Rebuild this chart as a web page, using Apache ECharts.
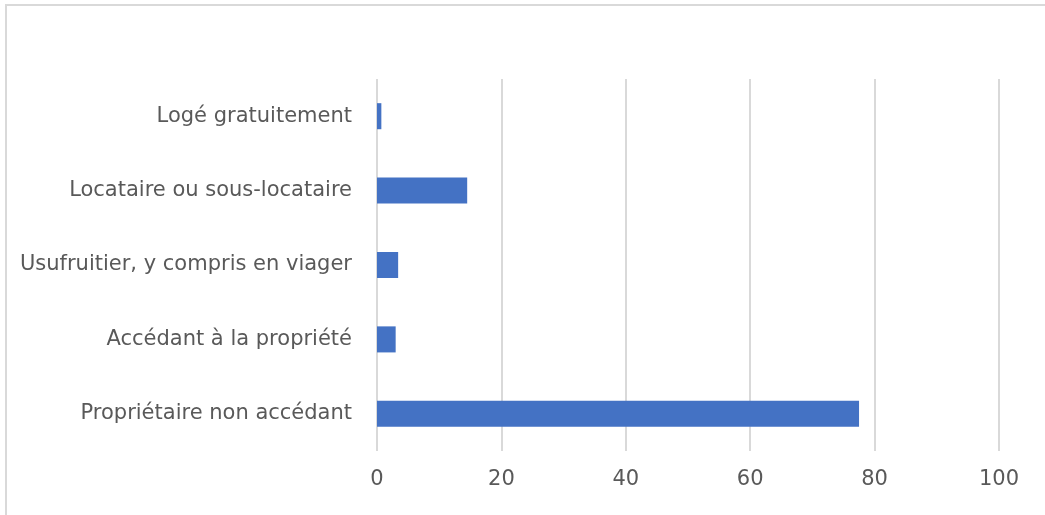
<!DOCTYPE html>
<html>
<head>
<meta charset="utf-8">
<script src="https://cdn.jsdelivr.net/npm/echarts@6/dist/echarts.min.js"></script>
<style>html,body{margin:0;padding:0;background:#fff;}#c{width:1045px;height:515px;}</style>
</head>
<body>
<div id="c"></div>
<script>
const categories = ["Propriétaire non accédant", "Accédant à la propriété", "Usufruitier, y compris en viager", "Locataire ou sous-locataire", "Logé gratuitement"];
const values = [77.5, 3.0, 3.4, 14.5, 0.7];
const xTicks = [0, 20, 40, 60, 80, 100];

const chart = echarts.init(document.getElementById('c'));
chart.setOption({
  animation: false,
  backgroundColor: '#ffffff',
  graphic: [{
    type: 'polyline',
    shape: { points: [[6, 515], [6, 5], [1045, 5]] },
    style: { stroke: '#d9d9d9', lineWidth: 2, fill: null }
  }],
  grid: { left: 377, right: 46, top: 79, bottom: 64, containLabel: false },
  xAxis: {
    type: 'value', min: xTicks[0], max: xTicks[xTicks.length - 1], interval: 20,
    axisLine: { show: false }, axisTick: { show: false },
    splitLine: { show: true, lineStyle: { color: '#d9d9d9', width: 2 } },
    axisLabel: { color: '#595959', fontSize: 21, fontFamily: 'DejaVu Sans', margin: 18 }
  },
  yAxis: {
    type: 'category', data: categories,
    axisLine: { show: false }, axisTick: { show: false },
    axisLabel: { color: '#595959', fontSize: 21, fontFamily: 'DejaVu Sans', margin: 25 }
  },
  series: [{
    type: 'bar', data: values, barCategoryGap: '65%',
    itemStyle: { color: '#4472c4' }
  }]
});
</script>
</body>
</html>
